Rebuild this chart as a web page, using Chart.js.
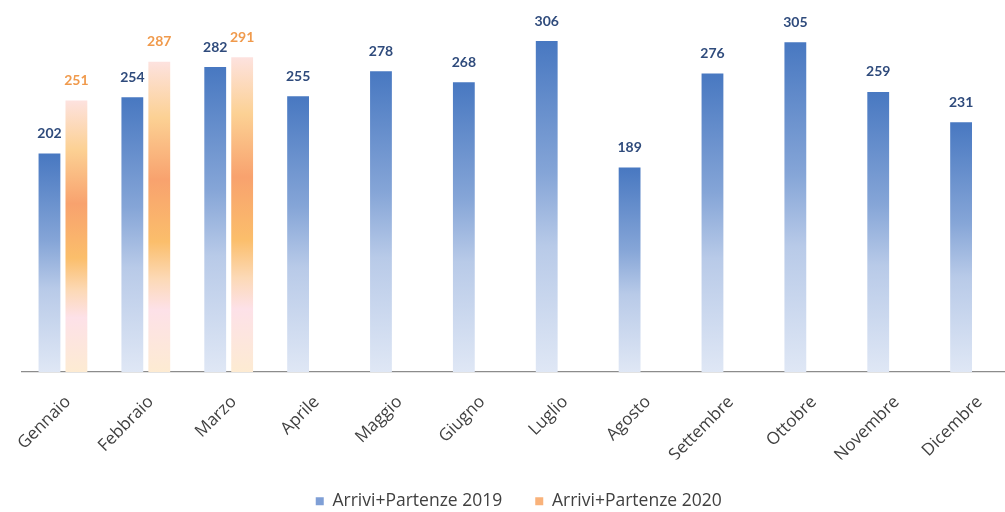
<!DOCTYPE html>
<html>
<head>
<meta charset="utf-8">
<script src="https://cdn.jsdelivr.net/npm/chart.js@4.4.1/dist/chart.umd.min.js"></script>
<style>
html,body{margin:0;padding:0;background:#fff;overflow:hidden;}
#wrap{position:relative;width:1016px;height:512px;}
</style>
</head>
<body>
<div id="wrap"><canvas id="c"></canvas></div>
<script>
const categories = ['Gennaio','Febbraio','Marzo','Aprile','Maggio','Giugno','Luglio','Agosto','Settembre','Ottobre','Novembre','Dicembre'];
const series2019 = [202,254,282,255,278,268,306,189,276,305,259,231];
const series2020 = [251,287,291,null,null,null,null,null,null,null,null,null];
const seriesNames = ['Arrivi+Partenze 2019','Arrivi+Partenze 2020'];

const BLUE_STOPS = [[0,'#4878c1'],[0.4,'#85a5d7'],[0.62,'#b8cae8'],[1,'#dfe7f5']];
const ORANGE_STOPS = [[0,'#fde2df'],[0.18,'#fcd194'],[0.38,'#f8a26e'],[0.58,'#fbbe6b'],[0.7,'#fcd9b6'],[0.8,'#fde1e8'],[1,'#fdebd2']];

function gradFill(stops, solid){
  return function(ctx){
    const chart = ctx.chart;
    if (!chart.chartArea || ctx.dataIndex === undefined || ctx.raw == null) return solid;
    const y = chart.scales.y;
    const top = y.getPixelForValue(ctx.raw);
    const bottom = y.getPixelForValue(0);
    if (!isFinite(top) || !isFinite(bottom) || bottom - top < 1) return solid;
    const g = chart.ctx.createLinearGradient(0, top, 0, bottom);
    stops.forEach(s => g.addColorStop(s[0], s[1]));
    return g;
  };
}

const labelColors = ['#2f4b7c','#f09a4c'];
const PAD_BOTTOM = -8;

const valueLabels = {
  id: 'valueLabels',
  afterDatasetsDraw(chart){
    const ctx = chart.ctx;
    ctx.save();
    ctx.font = 'bold 14px Lato';
    ctx.textAlign = 'center';
    ctx.textBaseline = 'middle';
    chart.data.datasets.forEach((ds, di) => {
      const meta = chart.getDatasetMeta(di);
      meta.data.forEach((bar, i) => {
        const v = ds.data[i];
        if (v == null) return;
        ctx.fillStyle = labelColors[di];
        ctx.fillText(String(v), bar.x, bar.y - 20);
      });
    });
    ctx.restore();
  }
};

new Chart(document.getElementById('c'), {
  type: 'bar',
  data: {
    labels: categories,
    datasets: [
      { label: seriesNames[0], data: series2019, backgroundColor: gradFill(BLUE_STOPS,'#8aa8d8'), borderWidth: 0, categoryPercentage: 0.65, barPercentage: 0.81 },
      { label: seriesNames[1], data: series2020, backgroundColor: gradFill(ORANGE_STOPS,'#f9b47a'), borderWidth: 0, categoryPercentage: 0.65, barPercentage: 0.81 }
    ]
  },
  options: {
    responsive: true,
    maintainAspectRatio: false,
    animation: false,
    layout: { padding: { left: 21.5, right: 0, top: 0, bottom: PAD_BOTTOM } },
    plugins: {
      tooltip: { enabled: false },
      legend: {
        position: 'bottom',
        labels: {
          font: { family: 'Open Sans', size: 17.5 },
          color: '#404040',
          boxWidth: 8, boxHeight: 8,
          padding: 33,
          generateLabels(chart){
            const fills = ['#7f9fd6','#f9b27a'];
            return chart.data.datasets.map((ds, i) => ({
              text: ds.label, fillStyle: fills[i], strokeStyle: fills[i], lineWidth: 0,
              fontColor: '#404040', datasetIndex: i, hidden: false
            }));
          }
        }
      }
    },
    scales: {
      x: {
        grid: { display: false, drawTicks: false },
        border: { display: true, color: '#8c8c8c', width: 1.2 },
        ticks: {
          color: '#404040',
          font: { family: 'Open Sans', size: 17 },
          minRotation: 45, maxRotation: 45,
          padding: 20,
          labelOffset: 5,
          autoSkip: false
        },
        afterFit(scale){
          scale.paddingLeft = 0; scale.paddingRight = 0;
          const lh = scale.chart.legend ? scale.chart.legend.height : 40;
          scale.height = 512 - 372 - lh - PAD_BOTTOM;
        }
      },
      y: { display: false, min: 0, max: 344 }
    }
  },
  plugins: [valueLabels]
});
</script>
</body>
</html>
